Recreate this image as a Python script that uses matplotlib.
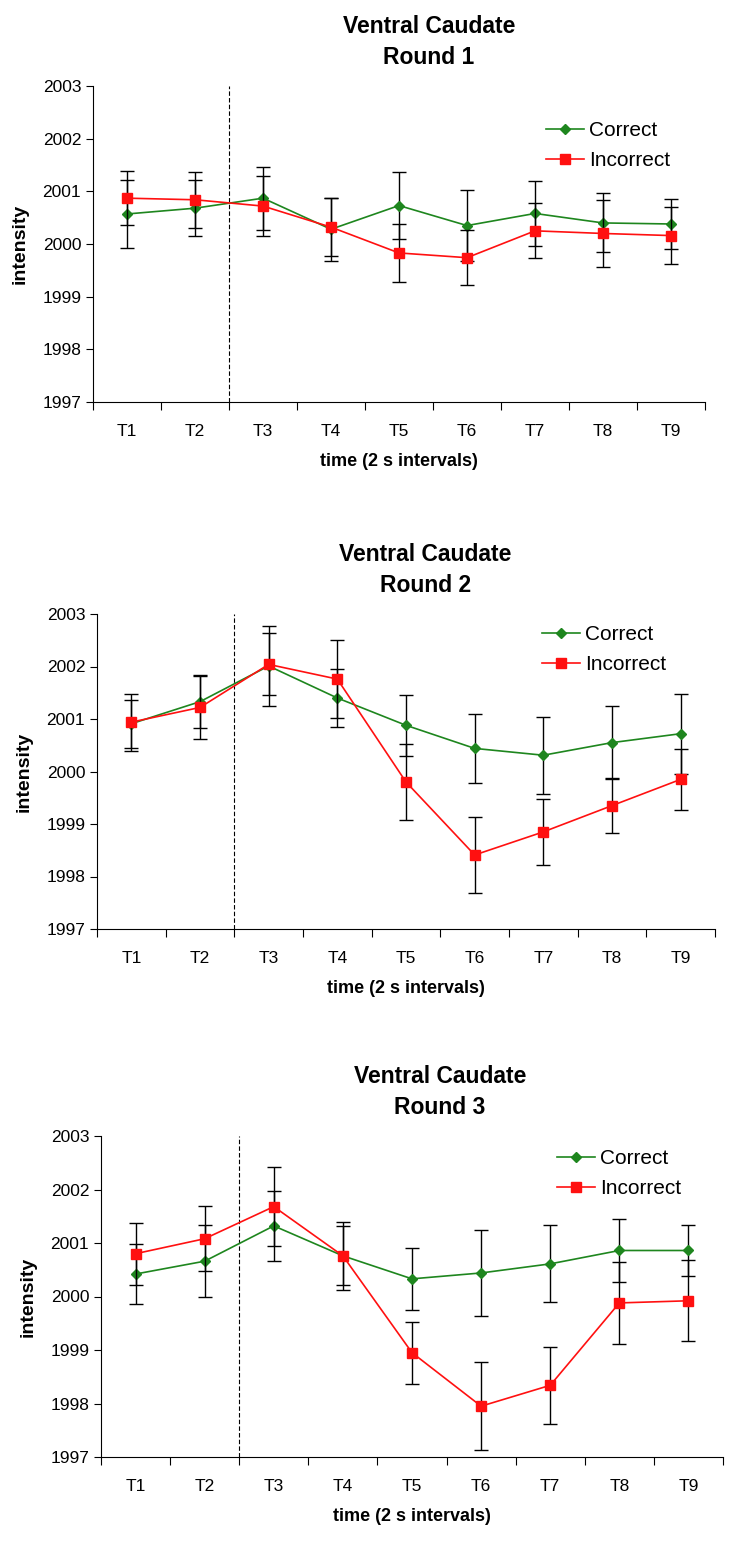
import matplotlib.pyplot as plt
import numpy as np

plt.rcParams['font.family'] = ['Liberation Sans', 'DejaVu Sans']

labels = ['T1', 'T2', 'T3', 'T4', 'T5', 'T6', 'T7', 'T8', 'T9']
rounds = ['Round 1', 'Round 2', 'Round 3']

correct_r1 = [2000.57, 2000.68, 2000.87, 2000.28, 2000.73, 2000.35, 2000.58, 2000.40, 2000.38]
correct_r1_err = [0.64, 0.53, 0.60, 0.60, 0.63, 0.68, 0.61, 0.56, 0.47]
incorrect_r1 = [2000.87, 2000.84, 2000.72, 2000.32, 1999.83, 1999.74, 2000.25, 2000.20, 2000.16]
incorrect_r1_err = [0.51, 0.53, 0.57, 0.55, 0.55, 0.52, 0.52, 0.64, 0.54]

correct_r2 = [2000.91, 2001.33, 2002.01, 2001.40, 2000.88, 2000.44, 2000.31, 2000.55, 2000.72]
correct_r2_err = [0.46, 0.50, 0.76, 0.55, 0.58, 0.65, 0.73, 0.70, 0.76]
incorrect_r2 = [2000.94, 2001.22, 2002.04, 2001.76, 1999.80, 1998.41, 1998.85, 1999.35, 1999.85]
incorrect_r2_err = [0.54, 0.60, 0.59, 0.74, 0.73, 0.73, 0.63, 0.53, 0.58]

correct_r3 = [2000.42, 2000.66, 2001.32, 2000.76, 2000.33, 2000.44, 2000.61, 2000.86, 2000.86]
correct_r3_err = [0.56, 0.67, 0.65, 0.64, 0.58, 0.80, 0.72, 0.58, 0.48]
incorrect_r3 = [2000.80, 2001.08, 2001.68, 2000.76, 1998.95, 1997.95, 1998.34, 1999.88, 1999.92]
incorrect_r3_err = [0.58, 0.61, 0.74, 0.55, 0.58, 0.82, 0.72, 0.77, 0.76]

data = [
    (correct_r1, correct_r1_err, incorrect_r1, incorrect_r1_err),
    (correct_r2, correct_r2_err, incorrect_r2, incorrect_r2_err),
    (correct_r3, correct_r3_err, incorrect_r3, incorrect_r3_err),
]

W, H = 750, 1544
fig = plt.figure(figsize=(W / 100, H / 100), dpi=100)

# axes boxes in pixels: left, top, right, bottom
boxes = [(93, 86, 705, 402), (97, 614, 715, 929), (101, 1136, 723, 1457)]
# legend anchor and title x (axes fraction) per panel
leg_pos = [(0.727, 0.916), (0.707, 0.992), (0.720, 0.986)]
title_x = [0.549, 0.531, 0.545]

x = np.arange(len(labels))
for i, (box, (c, ce, inc, ince)) in enumerate(zip(boxes, data)):
    l, t, r, b = box
    ax = fig.add_axes([l / W, 1 - b / H, (r - l) / W, (b - t) / H])
    ax.errorbar(x, c, yerr=ce, color='#1e861e', marker='D', markersize=5.5,
                lw=1.2, ecolor='black', elinewidth=1, capsize=5, capthick=1,
                label='Correct', zorder=3)
    ax.errorbar(x, inc, yerr=ince, color='#ff1010', marker='s', markersize=6.5,
                lw=1.2, ecolor='black', elinewidth=1, capsize=5, capthick=1,
                label='Incorrect', zorder=4)
    ax.axvline(1.5, color='black', ls=(0, (4, 2)), lw=0.8)
    ax.set_xlim(-0.5, len(labels) - 0.5)
    ax.set_ylim(1997, 2003)
    ax.set_yticks(np.arange(1997, 2004))
    ax.tick_params(axis='y', labelsize=12.5, direction='out', length=5)
    ax.set_xticks(np.arange(-0.5, len(labels)), [])
    ax.set_xticks(x, labels, minor=True)
    ax.tick_params(axis='x', which='major', length=6, direction='out')
    ax.tick_params(axis='x', which='minor', length=0, labelsize=12.5, pad=16)
    for s in ['top', 'right']:
        ax.spines[s].set_visible(False)
    ax.set_xlabel('time (2 s intervals)', fontsize=13, fontweight='bold', labelpad=10)
    ax.set_ylabel('intensity', fontsize=14, fontweight='bold', labelpad=10)
    ax.set_title('Ventral Caudate\n' + rounds[i], fontsize=16.5, fontweight='bold',
                 linespacing=1.42, pad=16, x=title_x[i])
    handles, lbls = ax.get_legend_handles_labels()
    handles = [h[0] for h in handles]
    ax.legend(handles, lbls, loc='upper left', bbox_to_anchor=leg_pos[i],
              frameon=False, fontsize=15, handlelength=1.8, handletextpad=0.25,
              labelspacing=0.55, borderaxespad=0)

fig.savefig('out.png', dpi=100)
